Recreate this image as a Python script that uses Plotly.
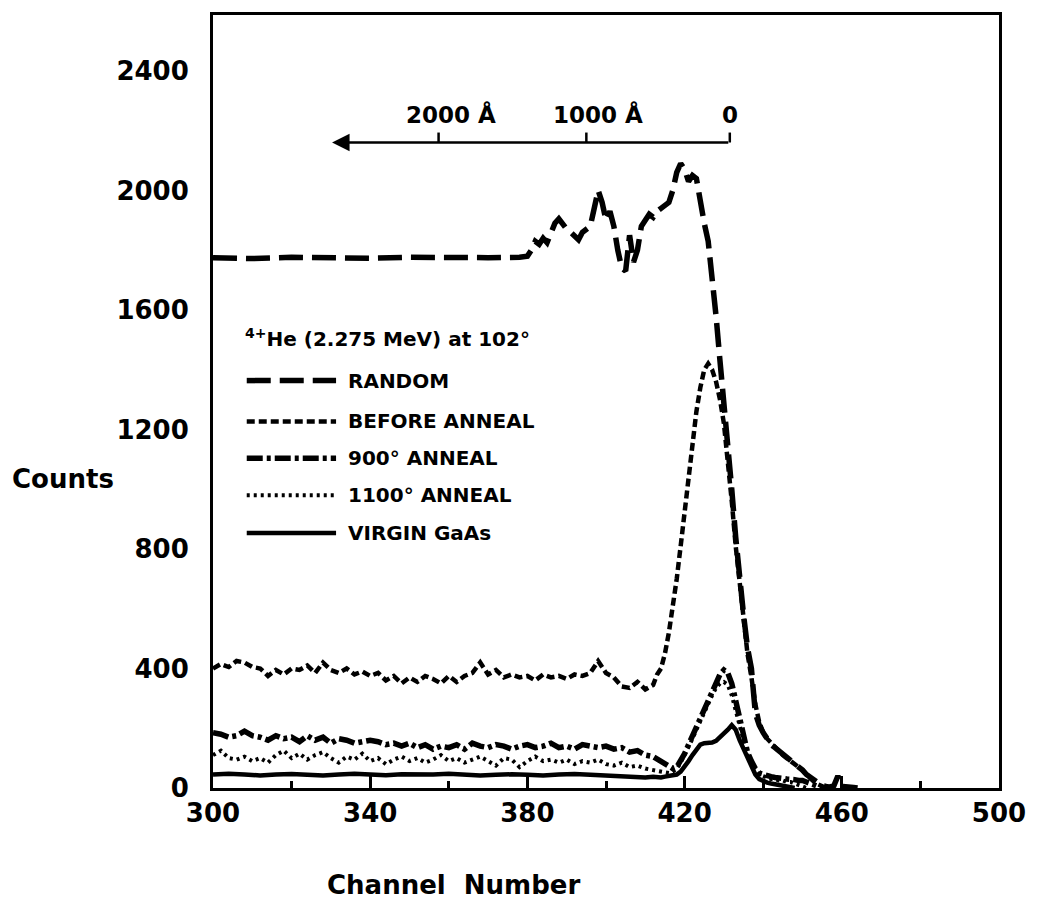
import plotly.graph_objects as go

# ---------------- data: backscattering yield vs channel ----------------
random_ch = [300, 310, 320, 330, 340, 350, 360, 370, 378,
             380, 381, 382, 383, 384, 385, 386, 387, 388, 389, 390, 391, 392, 393, 394, 395,
             396, 397, 398, 399, 400, 401, 402, 403, 404, 405, 406, 407, 408, 409, 410, 411,
             412, 413, 414, 415, 416, 417, 418, 419, 420, 421, 422, 423, 424, 425, 426, 427,
             428, 429, 430, 431, 432, 433, 434, 435, 436, 437, 438, 439, 440, 441, 442, 443,
             444, 445, 446, 447, 448, 449, 450, 451, 452, 453, 454, 455, 456, 457, 458, 459,
             460, 461, 462, 463, 464]
random_counts = [1775, 1772, 1776, 1774, 1773, 1776, 1774, 1775, 1776,
                 1780, 1800, 1830, 1820, 1840, 1825, 1860, 1890, 1905, 1885, 1870, 1860, 1850, 1835, 1860, 1870,
                 1880, 1940, 2000, 1960, 1900, 1930, 1880, 1800, 1740, 1730, 1850, 1760, 1800, 1880, 1900, 1920,
                 1910, 1930, 1940, 1950, 1960, 2000, 2060, 2090, 2070, 2030, 2050, 2040, 1960, 1890, 1830, 1720,
                 1580, 1430, 1300, 1150, 1000, 840, 700, 580, 470, 400, 250, 210, 185, 165, 145, 135,
                 125, 110, 105, 95, 85, 75, 60, 45, 35, 25, 15, 8, 5, 3, 8, 40,
                 5, 5, 3, 2, 0]

before_ch = [300, 302, 304, 306, 308, 310, 312, 314, 316, 318, 320, 322, 324, 326, 328, 330,
             332, 334, 336, 338, 340, 342, 344, 346, 348, 350, 352, 354, 356, 358, 360, 362,
             364, 366, 368, 370, 372, 374, 376, 378, 380, 382, 384, 386, 388, 390, 392, 394,
             396, 398, 400, 402, 404, 406, 408, 410, 412,
             413, 414, 415, 416, 417, 418, 419, 420, 421, 422, 423, 424, 425, 426, 427, 428,
             429, 430, 431, 432, 433, 434, 435, 436, 437, 438, 439, 440, 441, 442, 443, 444,
             445, 446, 447, 448, 449, 450, 451, 452, 453, 454, 455, 456]
before_counts = [400, 415, 405, 425, 420, 405, 400, 375, 395, 380, 400, 395, 410, 385, 420, 395,
                 385, 400, 380, 390, 375, 385, 360, 375, 350, 370, 355, 375, 365, 350, 375, 355,
                 375, 385, 420, 380, 395, 370, 380, 370, 375, 360, 380, 370, 375, 365, 380, 375,
                 385, 425, 385, 370, 340, 335, 355, 330, 345,
                 380, 400, 450, 520, 600, 700, 810, 930, 1050, 1160, 1260, 1340, 1400, 1420, 1400, 1360,
                 1300, 1220, 1100, 960, 810, 680, 560, 450, 370, 280, 220, 185, 165, 150, 135, 120,
                 110, 100, 90, 80, 70, 60, 45, 30, 20, 12, 5, 0]

a900_ch = [300, 302, 304, 306, 308, 310, 312, 314, 316, 318, 320, 322, 324, 326, 328, 330,
           332, 334, 336, 338, 340, 342, 344, 346, 348, 350, 352, 354, 356, 358, 360, 362,
           364, 366, 368, 370, 372, 374, 376, 378, 380, 382, 384, 386, 388, 390, 392, 394,
           396, 398, 400, 402, 404, 406, 408, 410, 412, 414,
           415, 416, 417, 418, 419, 420, 421, 422, 423, 424, 425, 426, 427, 428, 429, 430,
           431, 432, 433, 434, 435, 436, 437, 438, 439, 440, 441, 442, 443, 444, 445, 446,
           447, 448, 449, 450, 451, 452, 453, 454, 455]
a900_counts = [185, 180, 170, 175, 190, 175, 170, 160, 175, 165, 170, 155, 175, 160, 170, 150,
               165, 160, 150, 155, 160, 155, 145, 150, 140, 150, 135, 145, 130, 140, 135, 145,
               130, 150, 140, 135, 145, 140, 130, 140, 145, 135, 140, 150, 135, 140, 130, 145,
               140, 135, 140, 130, 135, 120, 125, 110, 105, 90,
               80, 70, 65, 70, 90, 115, 145, 175, 200, 230, 265, 300, 330, 360, 380, 395,
               385, 350, 290, 230, 170, 120, 90, 65, 50, 45, 40, 38, 35, 35, 32, 30,
               30, 28, 25, 25, 20, 15, 10, 5, 0]

a1100_ch = [300, 302, 304, 306, 308, 310, 312, 314, 316, 318, 320, 322, 324, 326, 328, 330,
            332, 334, 336, 338, 340, 342, 344, 346, 348, 350, 352, 354, 356, 358, 360, 362,
            364, 366, 368, 370, 372, 374, 376, 378, 380, 382, 384, 386, 388, 390, 392, 394,
            396, 398, 400, 402, 404, 406, 408, 410, 412, 414,
            415, 416, 417, 418, 419, 420, 421, 422, 423, 424, 425, 426, 427, 428, 429, 430,
            431, 432, 433, 434, 435, 436, 437, 438, 439, 440, 441, 442, 443, 444, 445, 446,
            447, 448, 449, 450, 451]
a1100_counts = [110, 125, 100, 95, 105, 90, 100, 85, 110, 125, 100, 115, 95, 110, 120, 100,
                85, 105, 95, 115, 90, 100, 80, 95, 105, 90, 100, 85, 95, 110, 90, 100,
                85, 95, 105, 90, 75, 100, 95, 70, 90, 105, 90, 95, 85, 95, 80, 90,
                85, 95, 80, 75, 85, 70, 75, 65, 60, 55,
                55, 50, 55, 65, 85, 110, 135, 165, 195, 225, 255, 285, 310, 335, 350, 355,
                345, 310, 260, 200, 150, 110, 80, 60, 45, 40, 35, 30, 30, 25, 25, 20,
                20, 15, 10, 5, 0]

virgin_ch = [300, 304, 308, 312, 316, 320, 324, 328, 332, 336, 340, 344, 348, 352, 356, 360,
             364, 368, 372, 376, 380, 384, 388, 392, 396, 400, 404, 408, 410, 412, 414,
             415, 416, 417, 418, 419, 420, 421, 422, 423, 424, 425, 426, 427, 428, 429, 430,
             431, 432, 433, 434, 435, 436, 437, 438, 439, 440, 441, 442, 443, 444, 445, 446,
             447, 448]
virgin_counts = [45, 48, 45, 42, 45, 47, 44, 42, 45, 48, 45, 43, 46, 44, 45, 48,
                 45, 42, 44, 46, 44, 42, 45, 47, 44, 42, 40, 38, 35, 38, 35,
                 38, 40, 42, 45, 55, 70, 90, 110, 130, 145, 150, 150, 152, 158, 170, 180,
                 195, 210, 195, 160, 130, 100, 70, 45, 30, 22, 18, 15, 12, 10, 8, 5,
                 3, 0]

x_ticks = [300, 340, 380, 420, 460, 500]
y_ticks = [0, 400, 800, 1200, 1600, 2000, 2400]

# depth scale (channel of each depth mark)
depth_labels = ["2000 Å", "1000 Å", "0"]
depth_channels = [357.4, 395.0, 431.5]

legend_title = "<sup>4+</sup>He (2.275 MeV) at 102°"

# ---------------- styling ----------------
FONT = "DejaVu Sans"
INK = "black"

series = [
    ("RANDOM", random_ch, random_counts, 5.5, "24px,9px"),
    ("BEFORE ANNEAL", before_ch, before_counts, 4.5, "8px,4px"),
    ("900° ANNEAL", a900_ch, a900_counts, 5.5, "16px,4px,4px,4px"),
    ("1100° ANNEAL", a1100_ch, a1100_counts, 4, "3px,4px"),
    ("VIRGIN GaAs", virgin_ch, virgin_counts, 4.5, "solid"),
]

fig = go.Figure()
for name, xs, ys, w, dash in series:
    fig.add_trace(go.Scatter(x=xs, y=ys, mode="lines", name=name,
                             line=dict(color=INK, width=w, dash=dash),
                             showlegend=False))

# plot-area geometry in pixels
W, H = 1038, 911
L, R, T, B = 213, 33, 12, 123
XR = (300, 500)
YR = (0, 2587)


def xpx(px):
    return XR[0] + (px - L) / (W - L - R) * (XR[1] - XR[0])


def ypx(py):
    return YR[0] + (H - B - py) / (H - B - T) * (YR[1] - YR[0])


def paper_x(px):
    return (px - L) / (W - L - R)


def paper_y(py):
    return (H - B - py) / (H - B - T)


shapes = []
annotations = []

# hand-drawn legend block
legend_rows = [379, 420, 457, 494, 532]
for (name, xs, ys, w, dash), ry in zip(series, legend_rows):
    shapes.append(dict(type="line", xref="x", yref="y",
                       x0=xpx(247), x1=xpx(337), y0=ypx(ry), y1=ypx(ry),
                       line=dict(color=INK, width=w, dash=dash)))
    annotations.append(dict(x=xpx(347), y=ypx(ry), xref="x", yref="y",
                            text=name, showarrow=False, xanchor="left", yanchor="middle",
                            font=dict(family=FONT, size=20, color=INK, weight="bold")))
annotations.append(dict(x=xpx(243), y=ypx(336), xref="x", yref="y",
                        text=legend_title, showarrow=False, xanchor="left", yanchor="middle",
                        font=dict(family=FONT, size=20, color=INK, weight="bold")))

# depth scale arrow
arrow_y = ypx(140)
annotations.append(dict(x=xpx(333), y=arrow_y, ax=depth_channels[-1], ay=arrow_y,
                        xref="x", yref="y", axref="x", ayref="y",
                        text="", showarrow=True, arrowhead=2, arrowsize=1.4,
                        arrowwidth=2.5, arrowcolor=INK))
for lab, ch in zip(depth_labels, depth_channels):
    shapes.append(dict(type="line", xref="x", yref="y", x0=ch, x1=ch,
                       y0=arrow_y, y1=ypx(130), line=dict(color=INK, width=2.5)))
    offset = 12 if lab != "0" else 0
    annotations.append(dict(x=ch, y=ypx(112), xref="x", yref="y", text=lab,
                            showarrow=False, xanchor="center", yanchor="middle", xshift=offset,
                            font=dict(family=FONT, size=23, color=INK, weight="bold")))

# axis titles
annotations.append(dict(x=paper_x(62), y=paper_y(478), xref="paper", yref="paper",
                        text="Counts", showarrow=False, xanchor="center", yanchor="middle",
                        font=dict(family=FONT, size=26, color=INK, weight="bold")))
annotations.append(dict(x=paper_x(455), y=paper_y(885), xref="paper", yref="paper",
                        text="Channel  Number", showarrow=False, xanchor="center",
                        yanchor="middle",
                        font=dict(family=FONT, size=26, color=INK, weight="bold")))

fig.update_layout(
    width=W, height=H,
    margin=dict(l=L, r=R, t=T, b=B, pad=0),
    paper_bgcolor="white", plot_bgcolor="white",
    shapes=shapes, annotations=annotations,
    showlegend=False,
)
fig.update_xaxes(range=list(XR), tickvals=x_ticks, ticktext=[str(v) for v in x_ticks],
                 showgrid=False, zeroline=False, showline=True, mirror=True,
                 linecolor=INK, linewidth=3, ticks="inside", ticklen=12, tickwidth=2.5,
                 tickcolor=INK,
                 minor=dict(tickvals=[320, 360, 400, 440, 480], ticks="inside",
                            ticklen=7, tickwidth=2.5, tickcolor=INK),
                 tickfont=dict(family=FONT, size=26, color=INK, weight="bold"))
fig.update_yaxes(range=list(YR), tickvals=y_ticks, ticktext=[str(v) for v in y_ticks],
                 showgrid=False, zeroline=False, showline=True, mirror=True,
                 linecolor=INK, linewidth=3, ticks="", ticklabelstandoff=16,
                 tickfont=dict(family=FONT, size=26, color=INK, weight="bold"))

fig.write_html("out.html")
